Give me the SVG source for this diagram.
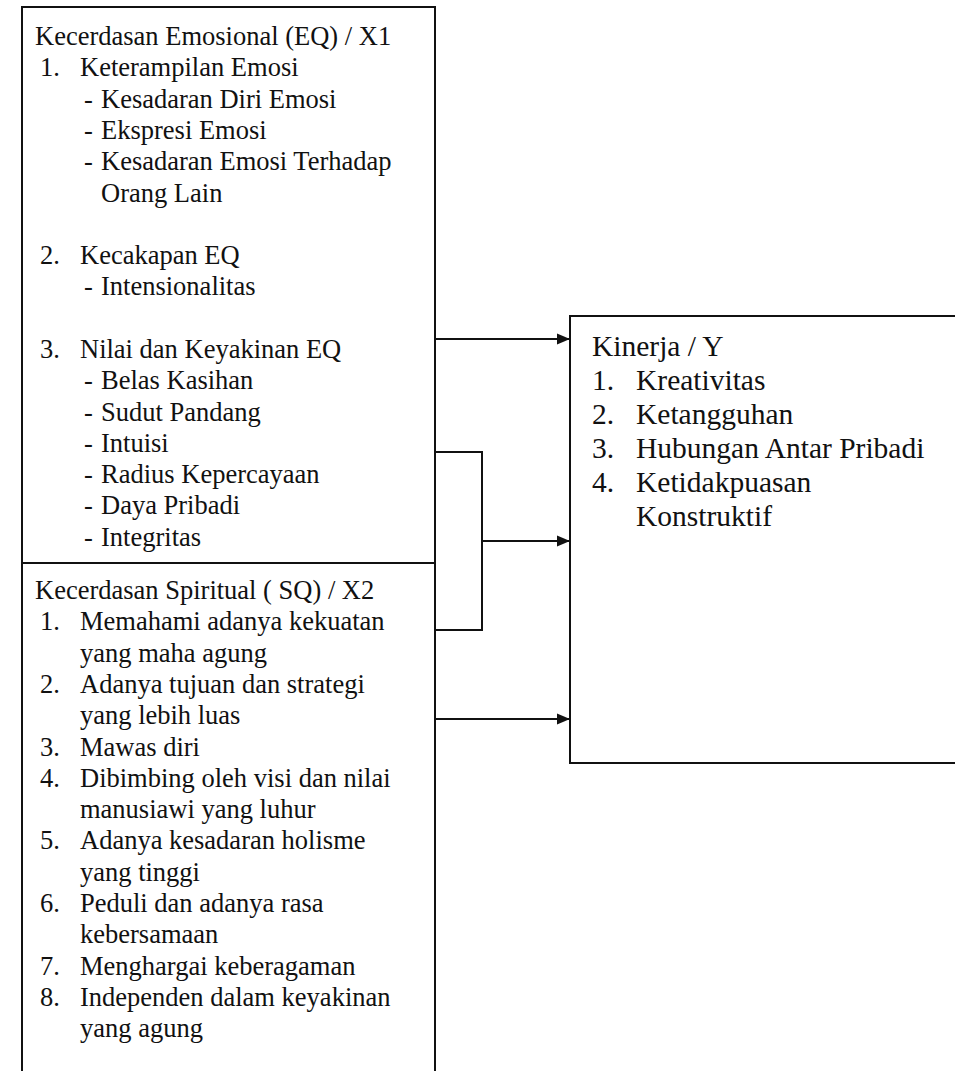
<svg xmlns="http://www.w3.org/2000/svg" width="955" height="1071" viewBox="0 0 955 1071">
<style>
.box{fill:none;stroke:#111;stroke-width:2}
.ln{fill:none;stroke:#111;stroke-width:2}
text{font-family:"Liberation Serif","Times New Roman",serif;fill:#111}
.l{font-size:26.5px}
.r{font-size:29.5px}
</style>
<defs>
<marker id="ah" markerWidth="14" markerHeight="12" refX="13" refY="6" orient="auto" markerUnits="userSpaceOnUse">
<path d="M0,0.5 L13,6 L0,11.5 Z" fill="#111"/>
</marker>
</defs>
<rect width="955" height="1071" fill="#fff"/>
<g id="eq">
<path class="box" d="M22,1071 L22,7 L435,7 L435,1071"/>
<line class="box" x1="22" y1="563" x2="435" y2="563"/>
<text class="l" x="35" y="45">Kecerdasan Emosional (EQ) / X1</text>
<text class="l" x="40" y="76">1.</text><text class="l" x="80" y="76">Keterampilan Emosi</text>
<text class="l" x="84" y="108">-</text><text class="l" x="101" y="108">Kesadaran Diri Emosi</text>
<text class="l" x="84" y="139">-</text><text class="l" x="101" y="139">Ekspresi Emosi</text>
<text class="l" x="84" y="170">-</text><text class="l" x="101" y="170">Kesadaran Emosi Terhadap</text>
<text class="l" x="101" y="202">Orang Lain</text>
<text class="l" x="40" y="264">2.</text><text class="l" x="80" y="264">Kecakapan EQ</text>
<text class="l" x="84" y="295">-</text><text class="l" x="101" y="295">Intensionalitas</text>
<text class="l" x="40" y="358">3.</text><text class="l" x="80" y="358">Nilai dan Keyakinan EQ</text>
<text class="l" x="84" y="389">-</text><text class="l" x="101" y="389">Belas Kasihan</text>
<text class="l" x="84" y="421">-</text><text class="l" x="101" y="421">Sudut Pandang</text>
<text class="l" x="84" y="452">-</text><text class="l" x="101" y="452">Intuisi</text>
<text class="l" x="84" y="483">-</text><text class="l" x="101" y="483">Radius Kepercayaan</text>
<text class="l" x="84" y="514">-</text><text class="l" x="101" y="514">Daya Pribadi</text>
<text class="l" x="84" y="546">-</text><text class="l" x="101" y="546">Integritas</text>
</g>
<g id="sq">
<text class="l" x="35" y="599">Kecerdasan Spiritual ( SQ) / X2</text>
<text class="l" x="40" y="630">1.</text><text class="l" x="80" y="630">Memahami adanya kekuatan</text>
<text class="l" x="80" y="662">yang maha agung</text>
<text class="l" x="40" y="693">2.</text><text class="l" x="80" y="693">Adanya tujuan dan strategi</text>
<text class="l" x="80" y="724">yang lebih luas</text>
<text class="l" x="40" y="756">3.</text><text class="l" x="80" y="756">Mawas diri</text>
<text class="l" x="40" y="787">4.</text><text class="l" x="80" y="787">Dibimbing oleh visi dan nilai</text>
<text class="l" x="80" y="818">manusiawi yang luhur</text>
<text class="l" x="40" y="849">5.</text><text class="l" x="80" y="849">Adanya kesadaran holisme</text>
<text class="l" x="80" y="881">yang tinggi</text>
<text class="l" x="40" y="912">6.</text><text class="l" x="80" y="912">Peduli dan adanya rasa</text>
<text class="l" x="80" y="943">kebersamaan</text>
<text class="l" x="40" y="975">7.</text><text class="l" x="80" y="975">Menghargai keberagaman</text>
<text class="l" x="40" y="1006">8.</text><text class="l" x="80" y="1006">Independen dalam keyakinan</text>
<text class="l" x="80" y="1037">yang agung</text>
</g>
<g id="kinerja">
<rect class="box" x="570" y="316" width="400" height="447"/>
<text class="r" x="592" y="356">Kinerja / Y</text>
<text class="r" x="592" y="390">1.</text><text class="r" x="636" y="390">Kreativitas</text>
<text class="r" x="592" y="424">2.</text><text class="r" x="636" y="424">Ketangguhan</text>
<text class="r" x="592" y="458">3.</text><text class="r" x="636" y="458">Hubungan Antar Pribadi</text>
<text class="r" x="592" y="492">4.</text><text class="r" x="636" y="492">Ketidakpuasan</text>
<text class="r" x="636" y="526">Konstruktif</text>
</g>
<g id="connectors">
<line class="ln" x1="435" y1="339" x2="570" y2="339" marker-end="url(#ah)"/>
<path class="ln" d="M435,452 L482,452 L482,630 L435,630"/>
<line class="ln" x1="482" y1="541" x2="570" y2="541" marker-end="url(#ah)"/>
<line class="ln" x1="435" y1="719" x2="570" y2="719" marker-end="url(#ah)"/>
</g>
</svg>
